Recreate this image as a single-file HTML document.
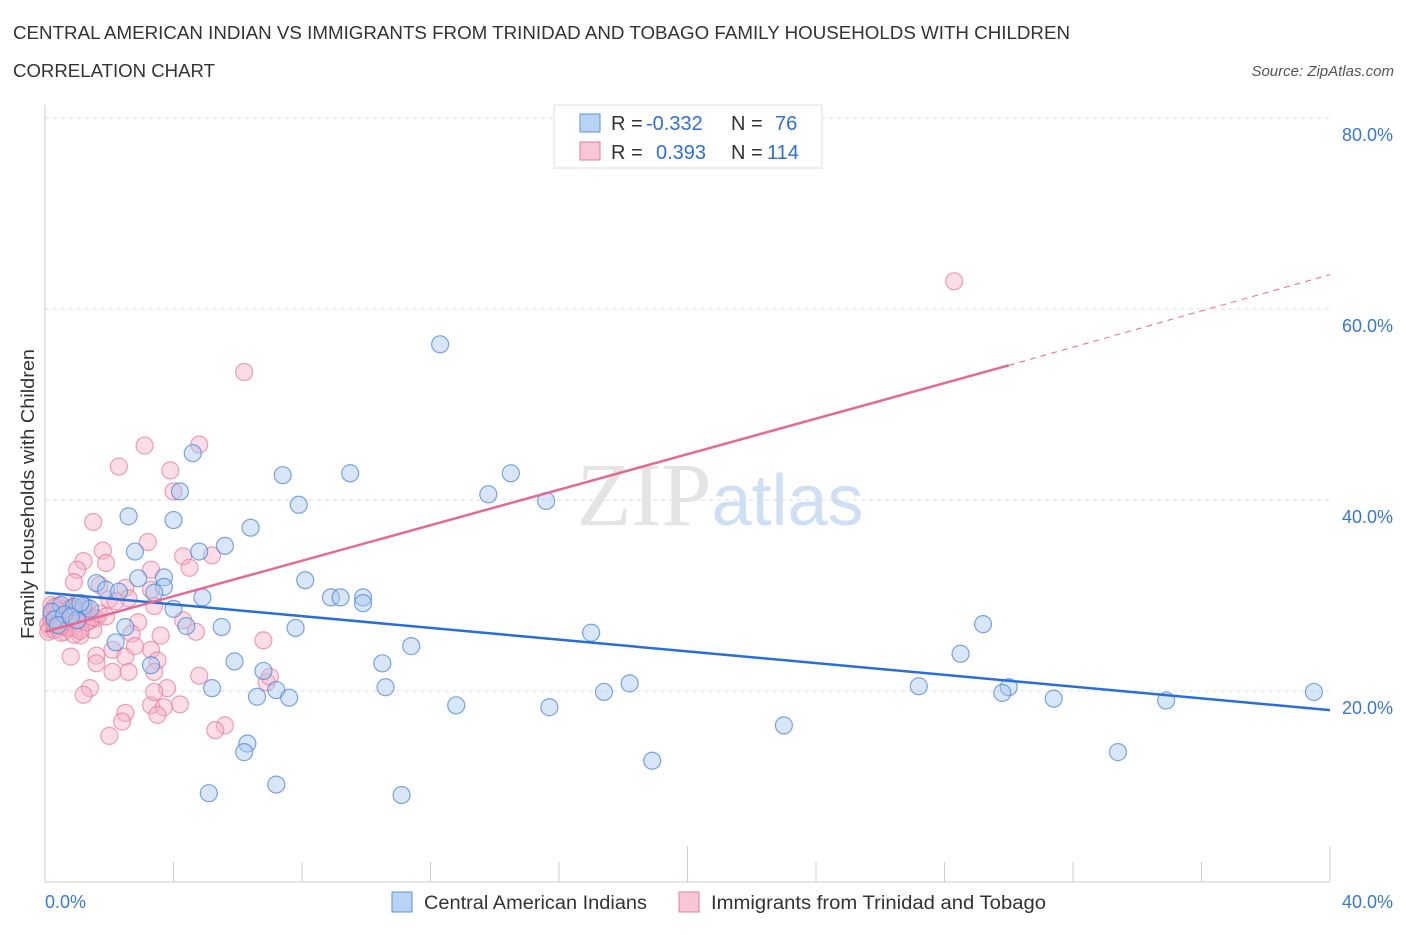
<!DOCTYPE html>
<html><head><meta charset="utf-8"><style>
body{margin:0;background:#fff;font-family:"Liberation Sans",sans-serif}
</style></head><body>
<svg id="chart" width="1406" height="930" xmlns="http://www.w3.org/2000/svg" font-family="Liberation Sans, sans-serif">
<text x="13" y="39" font-size="18" fill="#333" textLength="1057" lengthAdjust="spacingAndGlyphs">CENTRAL AMERICAN INDIAN VS IMMIGRANTS FROM TRINIDAD AND TOBAGO FAMILY HOUSEHOLDS WITH CHILDREN</text>
<text x="13" y="77" font-size="18" fill="#333" textLength="202" lengthAdjust="spacingAndGlyphs">CORRELATION CHART</text>
<text x="1394" y="76" font-size="15" fill="#555" font-style="italic" text-anchor="end">Source: ZipAtlas.com</text>
<g id="grid"></g>
<text x="720" y="525" font-size="90" text-anchor="middle" fill="#e4e4e4" font-family="Liberation Serif, serif">ZIP<tspan fill="#cfe0f4" font-family="Liberation Sans, sans-serif" font-size="72">atlas</tspan></text>
<g id="marks"></g>
<text transform="translate(34,494) rotate(-90)" font-size="18" fill="#333" text-anchor="middle" textLength="290" lengthAdjust="spacingAndGlyphs">Family Households with Children</text>
<g>
<rect x="554" y="105" width="268" height="63" fill="#fff" stroke="#ddd"/>
<rect x="580" y="114" width="20" height="18" fill="#b9d3f5" stroke="#5b93dc"/>
<rect x="580" y="142" width="20" height="18" fill="#f8c7d6" stroke="#e8799b"/>
<text x="611" y="130" font-size="20" fill="#333">R =</text>
<text x="646" y="130" font-size="20" fill="#2f6fd0">-0.332</text>
<text x="731" y="130" font-size="20" fill="#333">N =</text>
<text x="775" y="130" font-size="20" fill="#2f6fd0">76</text>
<text x="611" y="159" font-size="20" fill="#333">R =</text>
<text x="656" y="159" font-size="20" fill="#2f6fd0">0.393</text>
<text x="731" y="159" font-size="20" fill="#333">N =</text>
<text x="767" y="159" font-size="20" fill="#2f6fd0">114</text>
</g>
<g>
<rect x="392" y="892" width="20" height="20" fill="#b9d3f5" stroke="#5b93dc"/>
<text x="424" y="909" font-size="19" fill="#333" textLength="223" lengthAdjust="spacingAndGlyphs">Central American Indians</text>
<rect x="679" y="892" width="20" height="20" fill="#f8c7d6" stroke="#e8799b"/>
<text x="711" y="909" font-size="19" fill="#333" textLength="335" lengthAdjust="spacingAndGlyphs">Immigrants from Trinidad and Tobago</text>
</g>
</svg>
<script>
const yTicks=[20,40,60,80];
const yTickLabels=["20.0%","40.0%","60.0%","80.0%"];
const xTickLabels=["0.0%","40.0%"];
const blueX=[12.3,4.6,4.2,2.6,4.0,7.4,9.5,14.5,13.8,15.6,7.9,6.4,5.6,4.8,2.8,2.9,3.7,3.7,8.1,8.9,9.2,9.9,9.9,4.9,3.4,4.0,1.6,1.9,2.3,0.5,0.9,0.2,1.2,4.4,5.5,2.5,7.8,17.0,29.2,2.2,11.4,3.3,5.9,10.5,28.5,6.8,5.2,7.2,10.6,18.2,17.4,27.2,30.0,29.8,39.5,6.6,7.6,12.8,15.7,31.4,34.9,23.0,6.3,6.2,33.4,18.9,7.2,5.1,11.1,0.3,0.6,1.0,1.4,0.4,0.8,1.1];
const blueY=[56.3,44.9,40.9,38.3,37.9,42.6,42.8,42.8,40.6,39.9,39.5,37.1,35.2,34.6,34.6,31.8,31.9,30.9,31.6,29.8,29.8,29.8,29.2,29.8,30.3,28.6,31.3,30.6,30.4,29.0,28.8,28.3,28.9,26.8,26.7,26.7,26.6,26.1,27.0,25.1,24.7,22.7,23.1,22.9,23.9,22.1,20.3,20.1,20.4,20.8,19.9,20.5,20.4,19.8,19.9,19.4,19.3,18.5,18.3,19.2,19.0,16.4,14.5,13.6,13.6,12.7,10.2,9.3,9.1,27.5,28.0,27.4,28.6,26.9,27.8,29.2];
const pinkX=[28.3,6.2,3.1,4.8,2.3,3.9,4.0,1.5,3.2,4.3,5.2,1.8,1.2,1.9,1.0,3.3,4.5,0.9,1.7,2.5,3.3,2.0,2.6,3.4,1.3,1.6,4.3,2.9,0.6,1.1,1.5,2.7,3.6,4.7,6.8,1.6,0.8,2.1,2.5,2.8,3.3,3.5,1.6,2.1,2.6,3.4,6.9,7.0,1.4,3.8,1.2,3.3,4.2,3.7,2.5,3.5,5.6,5.3,2.4,2.0,4.8,3.4,
0.1,0.2,0.3,0.4,0.5,0.6,0.7,0.8,0.9,1.0,1.1,1.2,1.3,1.4,0.15,0.25,0.35,0.45,0.55,0.65,0.75,0.85,0.95,1.05,0.1,0.3,0.5,0.7,0.9,1.1,0.2,0.4,0.6,0.8,1.0,1.2,0.3,0.5,0.7,0.9,1.3,1.5,0.2,0.6,0.4,0.8,1.7,1.9,2.2,0.5,1.0,0.3];
const pinkY=[62.9,53.4,45.7,45.8,43.5,43.1,40.9,37.7,35.6,34.1,34.2,34.7,33.6,33.4,32.7,32.7,32.9,31.4,31.1,30.8,30.6,29.6,29.7,28.9,28.0,27.6,27.4,27.2,26.2,25.8,26.4,26.0,25.8,26.2,25.3,23.7,23.6,24.3,23.6,24.7,24.3,23.2,22.9,22.0,22.0,22.0,20.9,21.5,20.3,20.3,19.6,18.5,18.6,18.3,17.7,17.5,16.4,15.9,16.8,15.3,21.6,19.9,
27.0,27.5,26.8,28.0,27.2,28.3,26.9,27.7,28.5,27.1,26.6,27.9,28.8,27.4,26.5,28.2,27.6,26.9,28.6,27.3,28.1,26.7,27.8,28.4,26.2,26.4,26.1,26.6,25.9,26.3,29.0,28.9,29.3,28.7,29.1,28.5,27.0,27.3,27.6,27.9,27.2,27.7,28.0,28.2,28.4,28.6,28.1,27.8,29.4,26.8,27.5,28.8];
const blueFit=[30.3,18.0];
const pinkFit=[26.2,54.1,63.6];
const X0=45,X1=1330,Y0=882,YTOP=118;
const xs=v=>X0+(X1-X0)*v/40, ys=v=>Y0-(Y0-YTOP)*v/80;
const NS="http://www.w3.org/2000/svg";
function mk(tag,attrs,parent){const e=document.createElementNS(NS,tag);for(const k in attrs)e.setAttribute(k,attrs[k]);parent.appendChild(e);return e;}
const grid=document.getElementById('grid'),marks=document.getElementById('marks');
yTicks.forEach((t,i)=>{
 const l=mk('line',{x1:X0,x2:X1,y1:ys(t),y2:ys(t),stroke:'#ddd','stroke-dasharray':'4,4'},grid);
 
 
 const tx=mk('text',{x:1393,y:ys(t)+23,'font-size':18,fill:'#3a78d0','text-anchor':'end'},grid);
 tx.textContent=yTickLabels[i];
 
 
});
const ax=mk('line',{x1:X0,x2:X1,y1:Y0,y2:Y0,stroke:'#ccc'},grid);


const ay=mk('line',{x1:X0,x2:X0,y1:105,y2:Y0,stroke:'#ccc'},grid);


for(let i=0;i<=10;i++){const v=i*4;
 const t=mk('line',{x1:xs(v),x2:xs(v),y1:Y0,y2:(i%5==0)?846:862,stroke:'#ccc'},grid);
 
 }
[[0,xTickLabels[0],45,'start'],[40,xTickLabels[1],1393,'end']].forEach(a=>{
 const tx=mk('text',{x:a[2],y:908,'font-size':18,fill:'#3a78d0','text-anchor':a[3]},grid);
 tx.textContent=a[1];
 
 });
pinkX.forEach((x,i)=>{
 const c=mk('circle',{cx:xs(x),cy:ys(pinkY[i]),r:8.5,fill:'#f5b3c8','fill-opacity':0.45,stroke:'#e8799b','stroke-opacity':0.7,'stroke-width':1.2},marks);
 
 });
blueX.forEach((x,i)=>{
 const c=mk('circle',{cx:xs(x),cy:ys(blueY[i]),r:8.5,fill:'#a9c8f0','fill-opacity':0.45,stroke:'#4f8ad8','stroke-opacity':0.75,'stroke-width':1.2},marks);
 
 });
const bl=mk('line',{x1:xs(0),y1:ys(blueFit[0]),x2:xs(40),y2:ys(blueFit[1]),stroke:'#2a6fd6','stroke-width':2.5},marks);


const pl=mk('line',{x1:xs(0),y1:ys(pinkFit[0]),x2:xs(30),y2:ys(pinkFit[1]),stroke:'#e36a94','stroke-width':2.5},marks);


const pd=mk('line',{x1:xs(30),y1:ys(pinkFit[1]),x2:xs(40),y2:ys(pinkFit[2]),stroke:'#e36a94','stroke-width':1,'stroke-dasharray':'6,5'},marks);


</script>
</body></html>
